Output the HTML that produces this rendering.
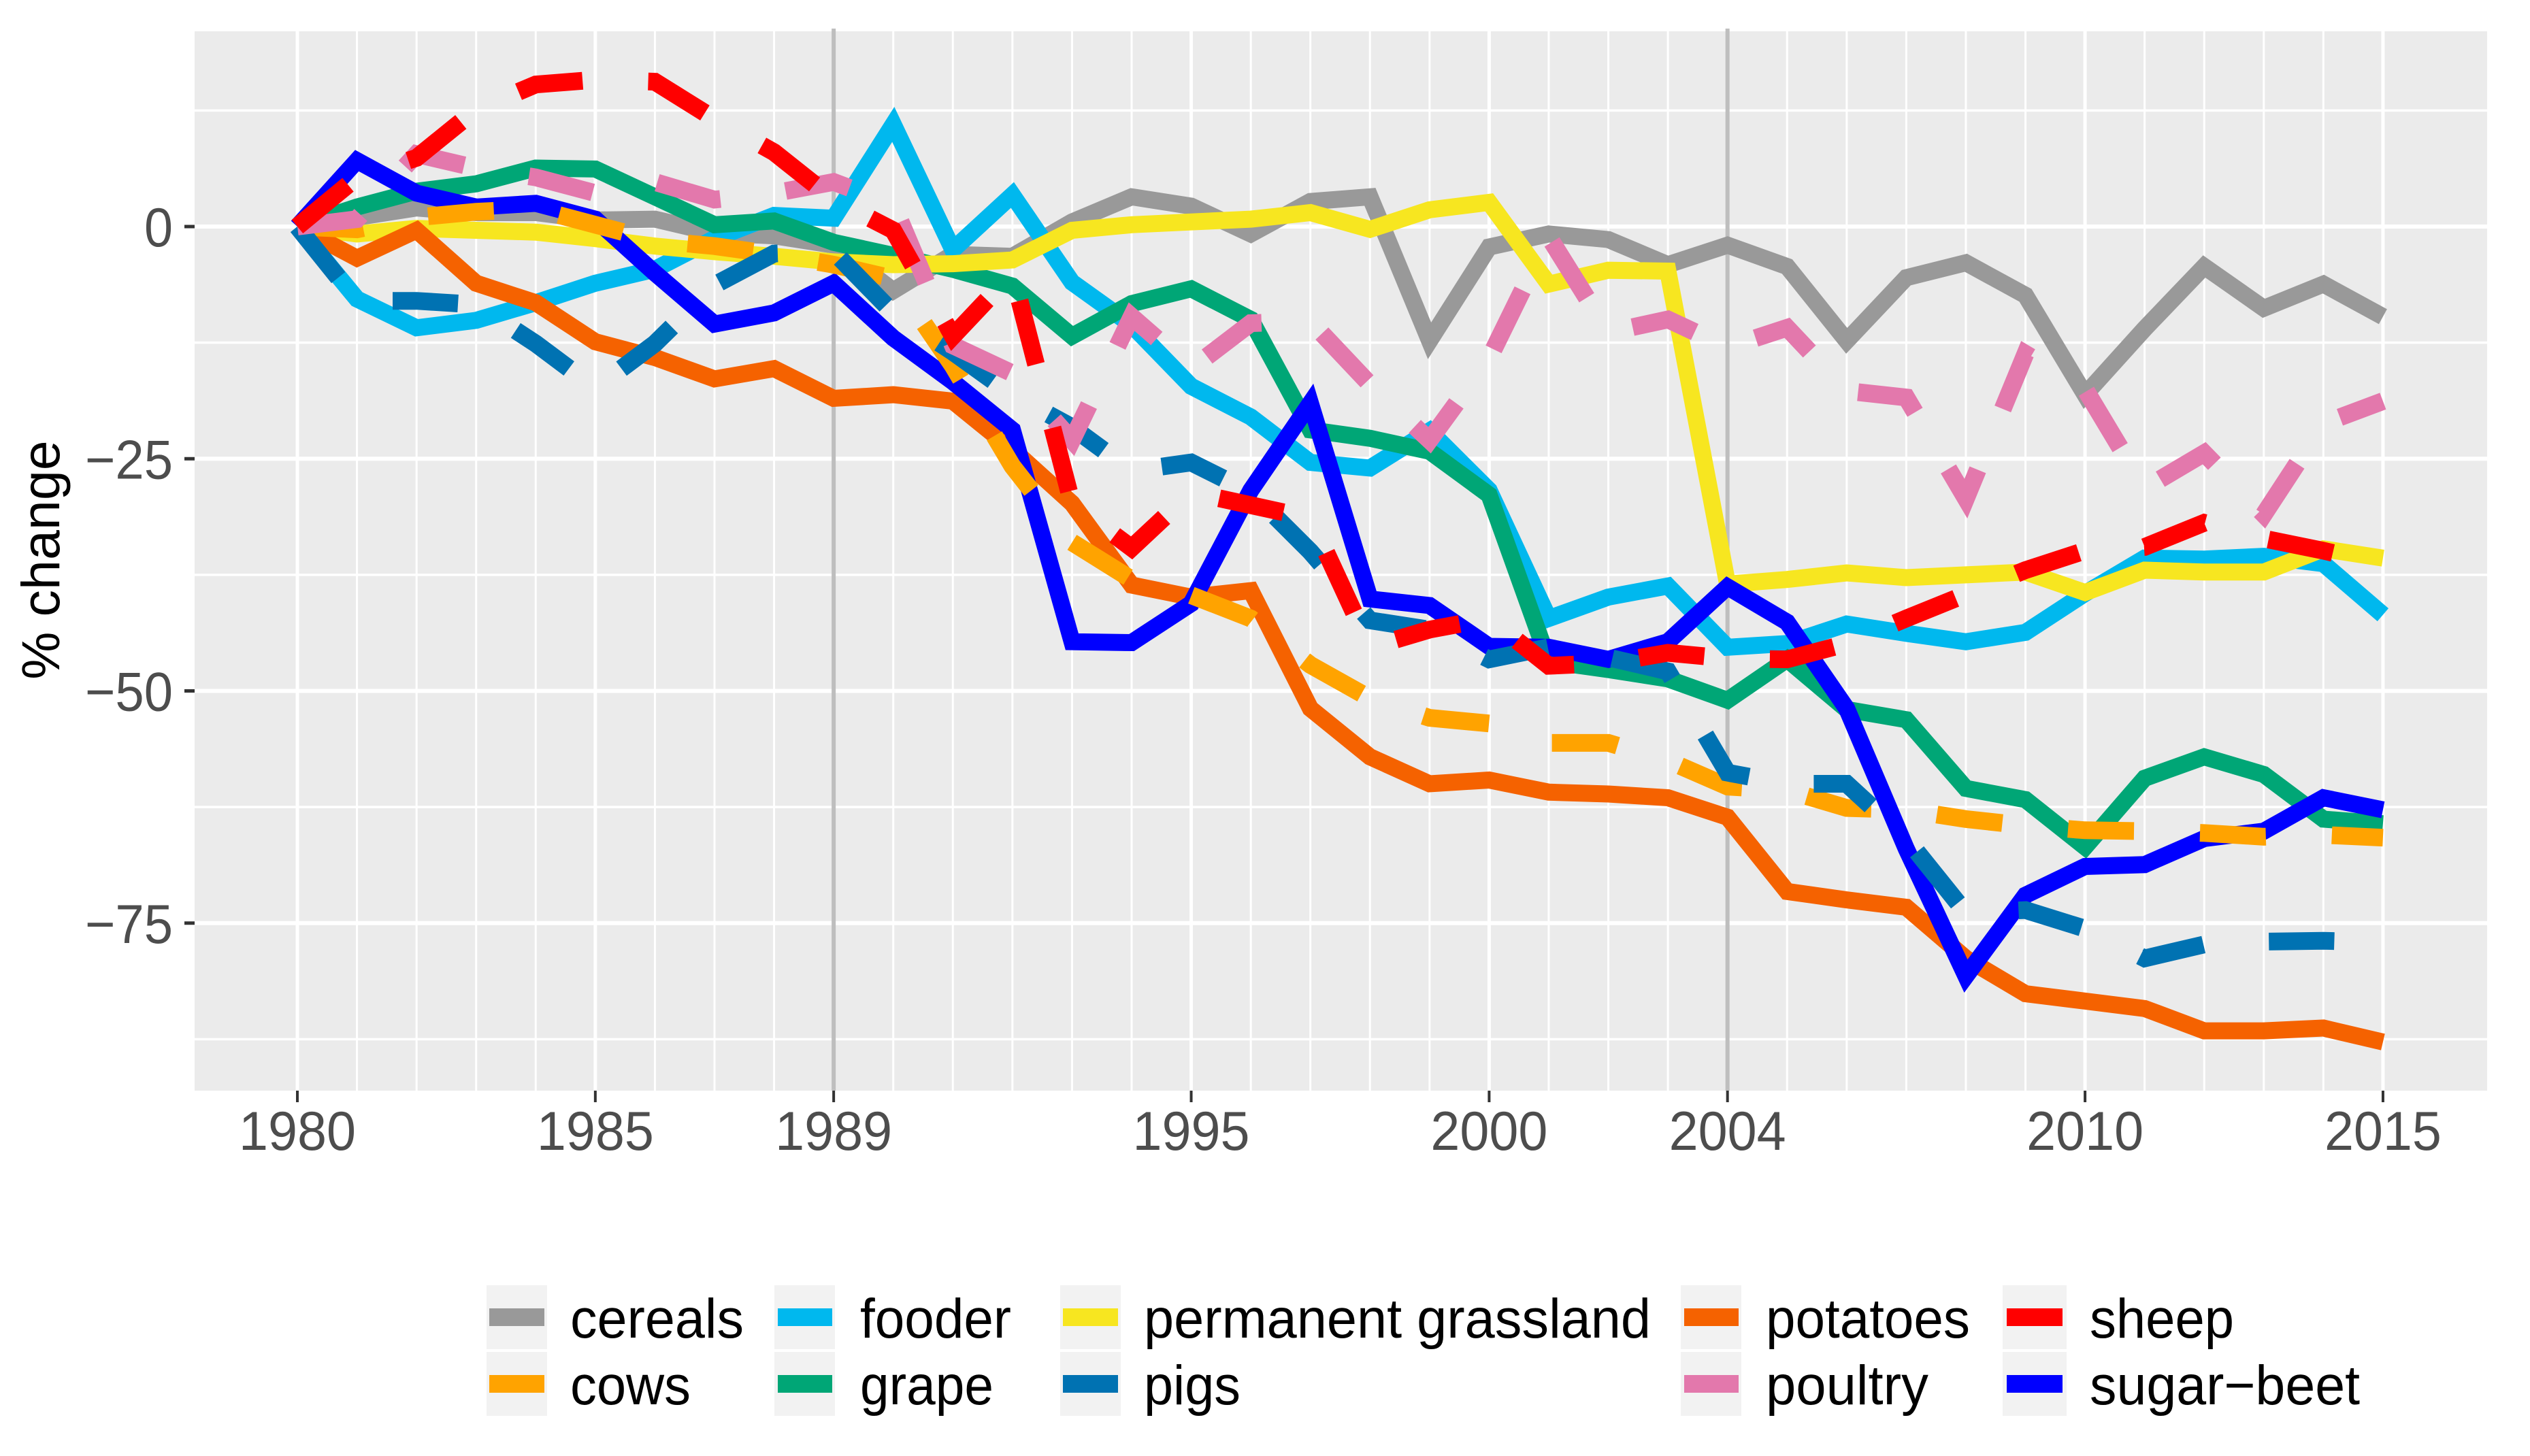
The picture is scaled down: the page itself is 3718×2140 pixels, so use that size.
<!DOCTYPE html>
<html lang="en">
<head>
<meta charset="utf-8">
<title>% change by land use and livestock, 1980-2015</title>
<style>
html,body{margin:0;padding:0;background:#fff;}
svg{display:block;font-family:"Liberation Sans",sans-serif;}
</style>
</head>
<body>
<svg id="chart" xmlns="http://www.w3.org/2000/svg" width="3718" height="2140" viewBox="0 0 3718 2140">
  <rect x="0" y="0" width="3718" height="2140" fill="#ffffff"/>
  <rect x="286" y="46" width="3369" height="1557" fill="#ebebeb"/>
  <g id="grid"></g>
  <g id="vlines"></g>
  <g id="axes"></g>
  <g id="series"></g>
  <text transform="translate(87,823) rotate(-90)" text-anchor="middle" font-size="79" fill="#000000">% change</text>
  <g id="legend">
    <g>
      <rect x="715" y="1889" width="89" height="94" fill="#f2f2f2"/>
      <rect x="719" y="1923" width="81" height="26" fill="#999999"/>
      <text x="838" y="1966" font-size="82" textLength="255" lengthAdjust="spacingAndGlyphs">cereals</text>
    </g>
    <g>
      <rect x="715" y="1987" width="89" height="94" fill="#f2f2f2"/>
      <rect x="719" y="2021" width="81" height="26" fill="#ffa300"/>
      <text x="838" y="2064" font-size="82" textLength="177" lengthAdjust="spacingAndGlyphs">cows</text>
    </g>
    <g>
      <rect x="1138" y="1889" width="89" height="94" fill="#f2f2f2"/>
      <rect x="1143" y="1923" width="80" height="26" fill="#00b8ee"/>
      <text x="1264" y="1966" font-size="82" textLength="222" lengthAdjust="spacingAndGlyphs">fooder</text>
    </g>
    <g>
      <rect x="1138" y="1987" width="89" height="94" fill="#f2f2f2"/>
      <rect x="1143" y="2021" width="80" height="26" fill="#00a676"/>
      <text x="1264" y="2064" font-size="82" textLength="196" lengthAdjust="spacingAndGlyphs">grape</text>
    </g>
    <g>
      <rect x="1558" y="1889" width="89" height="94" fill="#f2f2f2"/>
      <rect x="1562" y="1923" width="81" height="26" fill="#f7e620"/>
      <text x="1681" y="1966" font-size="82" textLength="745" lengthAdjust="spacingAndGlyphs">permanent grassland</text>
    </g>
    <g>
      <rect x="1558" y="1987" width="89" height="94" fill="#f2f2f2"/>
      <rect x="1562" y="2021" width="81" height="26" fill="#0072b2"/>
      <text x="1681" y="2064" font-size="82" textLength="142" lengthAdjust="spacingAndGlyphs">pigs</text>
    </g>
    <g>
      <rect x="2470" y="1889" width="89" height="94" fill="#f2f2f2"/>
      <rect x="2475" y="1923" width="80" height="26" fill="#f56200"/>
      <text x="2595" y="1966" font-size="82" textLength="300" lengthAdjust="spacingAndGlyphs">potatoes</text>
    </g>
    <g>
      <rect x="2470" y="1987" width="89" height="94" fill="#f2f2f2"/>
      <rect x="2475" y="2021" width="80" height="26" fill="#e378ac"/>
      <text x="2595" y="2064" font-size="82" textLength="239" lengthAdjust="spacingAndGlyphs">poultry</text>
    </g>
    <g>
      <rect x="2943" y="1889" width="94" height="94" fill="#f2f2f2"/>
      <rect x="2949" y="1923" width="82" height="26" fill="#ff0000"/>
      <text x="3071" y="1966" font-size="82" textLength="212" lengthAdjust="spacingAndGlyphs">sheep</text>
    </g>
    <g>
      <rect x="2943" y="1987" width="94" height="94" fill="#f2f2f2"/>
      <rect x="2949" y="2021" width="82" height="26" fill="#0000ff"/>
      <text x="3071" y="2064" font-size="82" textLength="397" lengthAdjust="spacingAndGlyphs">sugar−beet</text>
    </g>
  </g>
</svg>
<script>
const years = [1980,1981,1982,1983,1984,1985,1986,1987,1988,1989,1990,1991,1992,1993,1994,1995,1996,1997,1998,1999,2000,2001,2002,2003,2004,2005,2006,2007,2008,2009,2010,2011,2012,2013,2014,2015];
const xTickYears = [1980,1985,1989,1995,2000,2004,2010,2015];
const yTickValues = [0,-25,-50,-75];
const yTickLabels = ["0","−25","−50","−75"];
const yMinorValues = [12.5,-12.5,-37.5,-62.5,-87.5];
const referenceYears = [1989,2004];

const cereals = [0,1,2,1.5,1.5,0.7,0.8,-0.7,-1,-2,-6.9,-3,-3.2,0.5,3.2,2.2,-0.8,2.7,3.2,-12.3,-2.2,-0.8,-1.4,-4.1,-2,-4.3,-12.3,-5.5,-3.9,-7.4,-18.1,-11,-4.3,-8.8,-6.2,-9.7];
const fooder = [0,-7.8,-10.9,-10.1,-8.2,-6.1,-4.6,-1.3,1.2,0.9,11,-2.5,3.4,-6,-10.6,-17.2,-20.5,-25.4,-26,-22,-28.4,-42.2,-39.9,-38.7,-45.3,-44.9,-42.8,-43.8,-44.7,-43.7,-39.5,-35.7,-35.8,-35.5,-36.3,-41.8];
const grape = [0,2.1,3.8,4.6,6.3,6.2,3.2,0.2,0.6,-1.7,-3.1,-4.6,-6.4,-11.8,-8.3,-6.7,-10,-21.9,-22.8,-24.2,-28.9,-46.8,-47.7,-48.7,-51,-46.6,-52,-53.1,-60.5,-61.7,-66.8,-59.4,-57.1,-59,-63.8,-64.3];
const permanentGrassland = [0,-0.8,-0.2,-0.4,-0.6,-1.3,-2.1,-2.7,-3.2,-3.8,-4.1,-4,-3.6,-0.4,0.2,0.5,0.8,1.5,-0.3,1.8,2.6,-6.2,-4.7,-4.8,-38.5,-38,-37.3,-37.8,-37.5,-37.2,-39.4,-37,-37.2,-37.2,-34.7,-35.7];
const potatoes = [0,-3.4,-0.4,-6.1,-8.2,-12.4,-14.1,-16.4,-15.3,-18.5,-18.1,-18.8,-24,-29.8,-38.6,-39.9,-39.2,-51.9,-57.1,-60,-59.6,-60.9,-61.1,-61.5,-63.6,-71.6,-72.5,-73.3,-78.8,-82.6,-83.4,-84.2,-86.6,-86.6,-86.3,-87.8];
const sugarBeet = [0,7.1,3.6,2.1,2.5,0.8,-5,-10.5,-9.3,-6.1,-12,-16.7,-21.9,-44.7,-44.8,-40.6,-28.4,-19,-40.1,-40.8,-45.2,-45.3,-46.6,-44.7,-38.8,-42.6,-51.9,-67,-80.7,-72,-68.9,-68.7,-65.9,-65.1,-61.5,-62.8];
const cows = [0,-0.3,1,1.6,1.9,0.2,-1.5,-2.1,-3,-4.1,-5.6,-15,-25.8,-34,-38,-39.7,-42.2,-47.2,-50.8,-52.9,-53.5,-55.6,-55.6,-57.5,-60.3,-60.7,-62.6,-62.8,-63.8,-64.5,-65,-65.1,-65.3,-65.7,-65.5,-65.8];
const pigs = [0,-8,-8,-8.4,-12.6,-17.4,-12.6,-6.3,-2.9,-2.7,-9.3,-13.5,-18.1,-21.6,-26.3,-25.4,-28.6,-35,-42.4,-43.4,-46.6,-45.3,-46.4,-47.9,-58.8,-60,-60,-65.9,-73.9,-73.6,-75.6,-78.8,-77.3,-77,-76.9,-77.1];
const poultry = [0,0.8,7.8,6.3,5.3,3.6,4.8,2.9,3.6,4.8,2.4,-12.8,-15.8,-23,-9.7,-15.3,-10.4,-10.2,-17,-23,-14.2,-1.1,-11.4,-10,-13,-10.9,-17.7,-18.4,-29.3,-13.7,-17.5,-28.2,-24.4,-31,-21.2,-18.8];
const sheep = [0,5.3,7.4,12.6,15.3,15.8,15.6,11.6,8,2.9,-0.4,-11.8,-5,-29.8,-34.6,-28.6,-30,-31.4,-45.3,-43.4,-42.2,-47.3,-47,-45.9,-46.5,-46.6,-44.9,-42.2,-39.6,-37,-34.9,-34.5,-31.9,-33.6,-34.9,-36.4];

function xScale(year){ return 437 + (year - 1980) * 87.57; }
function yScale(value){ return 333 - value * 13.65; }

const NS = 'http://www.w3.org/2000/svg';
function make(parent, tag, attrs){
  const el = document.createElementNS(NS, tag);
  for (const k in attrs) el.setAttribute(k, attrs[k]);
  parent.appendChild(el);
  return el;
}

const grid = document.getElementById('grid');
const vlines = document.getElementById('vlines');
const axes = document.getElementById('axes');
const seriesLayer = document.getElementById('series');

yMinorValues.forEach(function(v){
  const el = make(grid, 'line', {x1:286, x2:3655, y1:yScale(v), y2:yScale(v), stroke:'#ffffff', 'stroke-width':3.5});
  
  
});
yTickValues.forEach(function(v){
  const el = make(grid, 'line', {x1:286, x2:3655, y1:yScale(v), y2:yScale(v), stroke:'#ffffff', 'stroke-width':6});
  
  
});
years.forEach(function(y){
  const major = xTickYears.indexOf(y) >= 0;
  const el = make(grid, 'line', {x1:xScale(y), x2:xScale(y), y1:46, y2:1603, stroke:'#ffffff', 'stroke-width':major ? 5 : 3});
  
  
});
referenceYears.forEach(function(y){
  const el = make(vlines, 'line', {x1:xScale(y), x2:xScale(y), y1:42, y2:1603, stroke:'#bebebe', 'stroke-width':6});
  
  
});

yTickValues.forEach(function(v, i){
  const tick = make(axes, 'line', {x1:271, x2:286, y1:yScale(v), y2:yScale(v), stroke:'#333333', 'stroke-width':5});
  
  
  const label = make(axes, 'text', {x:254, y:yScale(v) + 29, 'text-anchor':'end', 'font-size':81, fill:'#4d4d4d', textLength: i === 0 ? 42 : 129, lengthAdjust:'spacingAndGlyphs'});
  
  
  label.textContent = yTickLabels[i];
});
xTickYears.forEach(function(y){
  const tick = make(axes, 'line', {x1:xScale(y), x2:xScale(y), y1:1603, y2:1620, stroke:'#333333', 'stroke-width':4});
  
  
  const label = make(axes, 'text', {x:xScale(y), y:1690, 'text-anchor':'middle', 'font-size':81, fill:'#4d4d4d', textLength:172, lengthAdjust:'spacingAndGlyphs'});
  
  
  label.textContent = String(y);
});

function linePath(values){
  return values.map(function(v, i){
    return (i === 0 ? 'M' : 'L') + xScale(years[i]).toFixed(1) + ' ' + yScale(v).toFixed(1);
  }).join(' ');
}
function drawSeries(name, values, colour, dashLength){
  const attrs = {d:linePath(values), fill:'none', stroke:colour, 'stroke-width':dashLength ? 26 : 25, 'stroke-linecap':'butt', 'stroke-linejoin':'miter', 'stroke-miterlimit':10};
  if (dashLength) attrs['stroke-dasharray'] = dashLength + ' ' + dashLength;
  const el = make(seriesLayer, 'path', attrs);
  
  
}
drawSeries('cereals', cereals, '#999999', 0);
drawSeries('fooder', fooder, '#00b8ee', 0);
drawSeries('grape', grape, '#00a676', 0);
drawSeries('permanent-grassland', permanentGrassland, '#f7e620', 0);
drawSeries('potatoes', potatoes, '#f56200', 0);
drawSeries('sugar-beet', sugarBeet, '#0000ff', 0);
drawSeries('cows', cows, '#ffa300', 97);
drawSeries('pigs', pigs, '#0072b2', 96.2);
drawSeries('poultry', poultry, '#e378ac', 96.6);
drawSeries('sheep', sheep, '#ff0000', 96.5);
</script>
</body>
</html>
